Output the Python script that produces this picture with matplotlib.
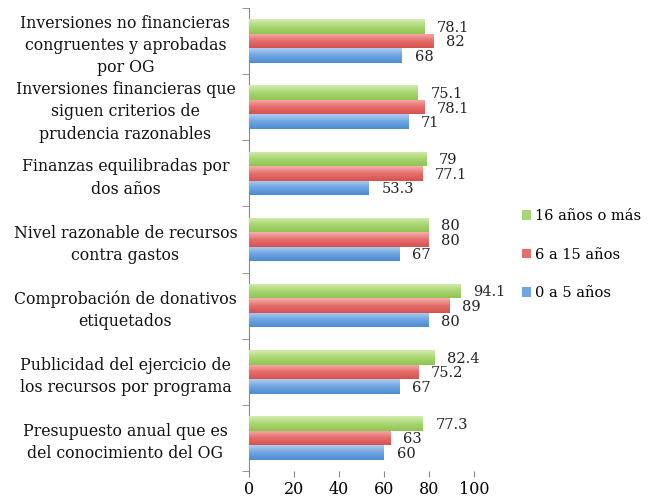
import matplotlib
matplotlib.use("Agg")
import matplotlib.pyplot as plt
import numpy as np
from matplotlib.colors import LinearSegmentedColormap

categories = [
    "Inversiones no financieras\ncongruentes y aprobadas\npor OG",
    "Inversiones financieras que\nsiguen criterios de\nprudencia razonables",
    "Finanzas equilibradas por\ndos años",
    "Nivel razonable de recursos\ncontra gastos",
    "Comprobación de donativos\netiquetados",
    "Publicidad del ejercicio de\nlos recursos por programa",
    "Presupuesto anual que es\ndel conocimiento del OG",
]
series_names = ["16 años o más", "6 a 15 años", "0 a 5 años"]
values_16 = [78.1, 75.1, 79, 80, 94.1, 82.4, 77.3]
values_6 = [82, 78.1, 77.1, 80, 89, 75.2, 63]
values_0 = [68, 71, 53.3, 67, 80, 67, 60]
labels_16 = ["78.1", "75.1", "79", "80", "94.1", "82.4", "77.3"]
labels_6 = ["82", "78.1", "77.1", "80", "89", "75.2", "63"]
labels_0 = ["68", "71", "53.3", "67", "80", "67", "60"]
x_ticks = [0, 20, 40, 60, 80, 100]

grads = [
    ["#D3ECB0", "#A9D672", "#8FC452"],
    ["#F6B0AE", "#E66E6C", "#D45250"],
    ["#AFCDF0", "#6FA5E2", "#4D8BD3"],
]
solid = ["#A9D672", "#E66E6C", "#6FA5E2"]

FONT = "DejaVu Serif"
fig = plt.figure(figsize=(6.49, 5.04), dpi=100)
ax = fig.add_axes([249/649, 1-471/504, 225/649, 463/504])

n = len(categories)
ypos = np.arange(n)[::-1].astype(float)
h = 0.22
offsets = [h, 0.0, -h]
all_vals = [values_16, values_6, values_0]
all_labs = [labels_16, labels_6, labels_0]

for s in range(3):
    bars = ax.barh(ypos + offsets[s], all_vals[s], height=h, color=solid[s],
                   label=series_names[s], zorder=2)
    cmap = LinearSegmentedColormap.from_list("g%d" % s, grads[s])
    grad = np.linspace(0, 1, 50).reshape(-1, 1)
    for b in bars:
        x0, y0, w, hh = b.get_x(), b.get_y(), b.get_width(), b.get_height()
        im = ax.imshow(grad, extent=[x0, x0 + w, y0, y0 + hh], origin="upper",
                       aspect="auto", cmap=cmap, zorder=3, interpolation="bilinear")
        im.set_clip_path(b)
    for b, lab in zip(bars, all_labs[s]):
        ax.annotate(lab, (b.get_width(), b.get_y() + b.get_height()/2),
                    xytext=(9, -1), textcoords="offset points", va="center",
                    ha="left", fontsize=10.5, family=FONT, color="#222222",
                    annotation_clip=False)

ax.set_xlim(0, 100)
ax.set_ylim(-0.5, n - 0.5)
ax.set_xticks(x_ticks)
ax.set_xticklabels([str(t) for t in x_ticks], family=FONT, fontsize=11.5)
ax.set_yticks(ypos)
ax.set_yticklabels(categories, family=FONT, fontsize=11.3, ha="center",
                   multialignment="center", linespacing=1.4, color="#111111")
ax.tick_params(axis="y", length=0, pad=89)
ax.set_yticks(np.arange(n + 1) - 0.5, minor=True)
ax.tick_params(axis="y", which="minor", length=5, color="#888888", direction="out")
ax.tick_params(axis="x", length=4, color="#888888", direction="out", pad=3)
for sp in ["top", "right", "bottom"]:
    ax.spines[sp].set_visible(False)
ax.spines["left"].set_color("#888888")

leg = ax.legend(loc="upper left", bbox_to_anchor=(509/649, 1-196/504),
                bbox_transform=fig.transFigure, frameon=False,
                prop={"family": FONT, "size": 10.5}, handlelength=0.6,
                handleheight=0.6, handletextpad=0.3, labelspacing=1.68)

fig.savefig("out.png", dpi=100)
